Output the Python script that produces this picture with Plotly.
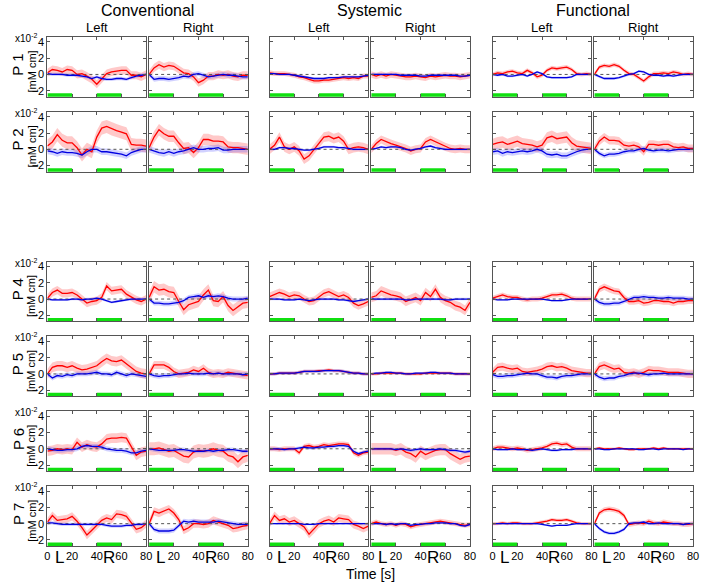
import plotly.graph_objects as go

# ---------------- data ----------------
TIME = [0, 4, 8, 12, 16, 20, 24, 28, 32, 36, 40, 44, 48, 52, 56, 60, 64, 68, 72, 76, 80]
ROW_LABELS = ["P 1", "P 2", "P 4", "P 5", "P 6", "P 7"]
GROUPS = ["Conventional", "Systemic", "Functional"]
SIDES = ["Left", "Right"]
X_TICKS = [0, 20, 40, 60, 80]
X_LABELS_LEFT = ["0", "20", "40", "60", "80"]
X_LABELS_RIGHT = ["", "20", "40", "60", "80"]
Y_TICKS = [-2, 0, 2, 4]
TASK_BLOCKS = [(0, 20), (40, 60)]
TASK_LETTERS = [("L", 9.5), ("R", 50)]

# P1
P1_CONV_L_RED = [0.2, 0.6, 0.5, 0.3, 0.6, 0.5, 0.0, 0.1, -0.2, -0.6, -1.2, -0.6, 0.1, 0.3, 0.4, 0.5, 0.5, -0.1, -0.1, -0.3, 0.0]
P1_CONV_L_BLUE = [0.1, 0.0, 0.0, 0.0, -0.1, -0.1, -0.1, -0.2, -0.3, -0.5, -0.3, -0.5, -0.6, -0.6, -0.5, -0.5, -0.6, -0.4, -0.2, -0.1, 0.0]
P1_CONV_R_RED = [0.0, 0.8, 1.2, 0.9, 1.1, 1.0, 0.6, 0.2, 0.1, -0.3, -1.0, -0.7, -0.2, -0.2, 0.0, -0.1, 0.0, -0.2, -0.3, -0.1, -0.1]
P1_CONV_R_BLUE = [0.0, -0.6, -0.5, -0.5, -0.6, -0.5, -0.4, -0.2, -0.3, 0.0, 0.1, -0.1, -0.3, -0.2, -0.1, 0.0, -0.1, -0.1, -0.2, -0.3, -0.3]
P1_SYS_L_RED = [0.2, 0.1, 0.1, 0.1, 0.0, -0.1, -0.3, -0.4, -0.6, -0.8, -0.8, -0.7, -0.7, -0.6, -0.5, -0.4, -0.5, -0.4, -0.5, -0.2, -0.2]
P1_SYS_L_BLUE = [0.1, 0.1, 0.0, 0.0, 0.0, -0.1, -0.2, -0.3, -0.4, -0.5, -0.5, -0.5, -0.4, -0.4, -0.4, -0.3, -0.3, -0.3, -0.3, -0.2, -0.1]
P1_SYS_R_RED = [0.0, -0.2, 0.0, -0.2, 0.0, -0.1, -0.2, -0.3, -0.3, -0.2, -0.3, -0.4, -0.2, -0.3, -0.2, -0.1, -0.2, -0.2, -0.3, -0.2, -0.1]
P1_SYS_R_BLUE = [0.0, 0.0, 0.0, 0.0, 0.0, 0.0, -0.1, -0.1, -0.1, -0.1, -0.2, -0.2, -0.1, -0.1, -0.1, -0.1, -0.1, -0.1, -0.2, -0.2, -0.1]
P1_FUN_L_RED = [0.0, 0.2, 0.1, 0.3, 0.4, 0.2, 0.1, 0.5, 0.2, -0.3, -0.1, 0.5, 0.8, 0.7, 0.8, 0.9, 0.6, 0.1, 0.0, 0.1, 0.0]
P1_FUN_L_BLUE = [0.0, -0.1, 0.0, -0.2, -0.2, -0.1, 0.0, -0.2, 0.0, 0.3, 0.1, -0.3, -0.4, -0.4, -0.4, -0.4, -0.3, 0.0, 0.0, 0.0, 0.0]
P1_FUN_R_RED = [0.0, 0.9, 1.1, 1.0, 1.2, 1.0, 0.5, 0.1, 0.0, -0.4, -0.8, -0.3, 0.1, 0.1, 0.2, 0.1, 0.3, 0.2, 0.0, 0.1, 0.0]
P1_FUN_R_BLUE = [0.0, -0.3, -0.5, -0.5, -0.5, -0.4, -0.2, 0.0, 0.1, 0.4, 0.3, 0.0, -0.1, -0.1, -0.2, -0.1, -0.2, -0.1, 0.0, 0.0, 0.0]
P1_BAND_RED = [0.5, 0.5, 0.3, 0.4, 0.25, 0.25]
P1_BAND_BLUE = [0.2, 0.3, 0.15, 0.15, 0.15, 0.15]

# P2
P2_CONV_L_RED = [0.4, 0.9, 1.8, 1.1, 0.8, 0.8, 0.2, -0.7, 0.0, -0.3, 1.5, 2.6, 2.8, 2.5, 2.3, 2.1, 1.9, 0.6, 0.5, 0.5, 0.4]
P2_CONV_L_BLUE = [-0.2, -0.3, -0.5, -0.3, -0.4, -0.4, -0.5, -0.7, -0.3, 0.0, 0.0, -0.3, -0.3, -0.4, -0.5, -0.6, -0.8, -0.4, -0.2, 0.0, 0.0]
P2_CONV_R_RED = [0.2, 1.5, 2.4, 1.9, 1.6, 1.6, 0.8, 0.1, 0.2, -0.4, 0.2, 1.2, 1.2, 1.0, 1.0, 0.9, 0.3, 0.2, 0.2, 0.1, 0.0]
P2_CONV_R_BLUE = [0.0, -0.2, -0.4, -0.5, -0.3, -0.5, -0.3, -0.2, 0.0, 0.2, 0.0, 0.0, 0.1, 0.1, 0.2, -0.1, -0.1, 0.0, 0.0, 0.0, 0.0]
P2_SYS_L_RED = [0.0, 0.5, 1.5, 0.3, 0.0, 0.3, -0.2, -1.2, -0.8, 0.0, 0.8, 1.5, 1.6, 1.3, 1.5, 1.0, 0.0, 0.2, 0.3, 0.2, 0.0]
P2_SYS_L_BLUE = [0.0, 0.0, 0.2, 0.2, 0.1, 0.1, 0.0, -0.1, -0.1, 0.0, 0.1, 0.3, 0.3, 0.3, 0.2, 0.2, 0.1, 0.0, 0.0, 0.0, 0.0]
P2_SYS_R_RED = [0.0, 0.7, 1.2, 0.9, 0.7, 0.5, 0.3, 0.1, -0.2, 0.0, 0.1, 0.9, 1.2, 0.9, 0.6, 0.3, 0.1, 0.0, 0.1, 0.0, 0.0]
P2_SYS_R_BLUE = [0.0, 0.1, 0.3, 0.2, 0.3, 0.3, 0.2, 0.0, -0.1, 0.0, 0.1, 0.3, 0.4, 0.2, 0.1, 0.0, 0.0, 0.0, 0.0, 0.0, 0.0]
P2_FUN_L_RED = [0.6, 0.8, 0.9, 0.6, 0.8, 1.0, 0.7, 0.6, 0.5, 0.3, 0.5, 1.4, 1.6, 1.3, 1.4, 1.5, 0.8, 0.4, 0.3, 0.2, 0.1]
P2_FUN_L_BLUE = [-0.3, -0.2, -0.5, -0.3, -0.4, -0.3, -0.2, -0.3, -0.2, 0.0, -0.2, -0.6, -0.7, -0.6, -0.8, -0.8, -0.5, -0.3, -0.1, 0.0, 0.0]
P2_FUN_R_RED = [0.0, 1.0, 1.5, 1.1, 1.1, 1.0, 0.5, 0.4, 0.5, 0.3, -0.3, 0.6, 0.6, 0.5, 0.6, 0.6, 0.3, 0.2, 0.3, 0.1, 0.1]
P2_FUN_R_BLUE = [0.0, -0.5, -0.8, -0.6, -0.6, -0.5, -0.3, -0.2, -0.2, 0.0, 0.1, -0.1, -0.2, -0.1, -0.1, -0.2, -0.1, 0.0, 0.0, 0.0, 0.0]
P2_BAND_RED = [0.8, 0.7, 0.6, 0.5, 0.7, 0.5]
P2_BAND_BLUE = [0.4, 0.4, 0.15, 0.15, 0.4, 0.3]

# P4
P4_CONV_L_RED = [0.1, 0.8, 1.1, 0.7, 0.7, 0.8, 0.5, 0.0, -0.5, -0.3, -0.2, 0.2, 1.6, 1.0, 1.1, 1.2, 0.6, 0.2, -0.1, -0.3, 0.0]
P4_CONV_L_BLUE = [0.0, -0.1, -0.1, -0.1, -0.1, 0.0, 0.0, -0.1, 0.0, 0.0, 0.1, 0.0, -0.2, -0.4, -0.3, -0.2, -0.1, 0.0, 0.0, 0.0, 0.0]
P4_CONV_R_RED = [0.2, 1.5, 1.1, 1.2, 0.9, 0.8, -0.3, -1.3, -0.7, -0.5, -0.3, 0.5, 1.1, -0.2, -0.3, 0.3, -0.8, -1.4, -1.0, -0.5, -0.4]
P4_CONV_R_BLUE = [0.0, -0.5, -0.5, -0.6, -0.6, -0.5, -0.4, -0.2, 0.2, 0.3, 0.4, 0.2, 0.4, 0.3, 0.4, 0.3, 0.1, 0.0, 0.0, 0.0, 0.1]
P4_SYS_L_RED = [0.3, 0.6, 0.8, 0.6, 0.3, 0.5, 0.4, 0.0, -0.3, -0.2, 0.3, 0.7, 0.9, 0.6, 0.3, 0.5, 0.2, -0.5, -0.8, -0.6, -0.3]
P4_SYS_L_BLUE = [0.0, 0.0, 0.0, -0.1, -0.1, -0.1, 0.0, -0.1, -0.2, -0.1, 0.0, 0.0, 0.0, 0.0, -0.1, -0.1, -0.2, -0.3, -0.2, -0.1, 0.0]
P4_SYS_R_RED = [0.2, 0.4, 1.0, 0.7, 0.5, 0.4, 0.2, -0.3, 0.0, 0.2, -0.2, 0.8, 0.3, 1.2, 0.2, -0.2, -0.4, -0.8, -1.0, -1.4, -0.4]
P4_SYS_R_BLUE = [0.0, 0.0, 0.0, 0.0, 0.0, 0.0, 0.0, -0.1, -0.1, 0.0, 0.0, 0.0, 0.0, 0.0, 0.0, -0.1, -0.1, 0.0, 0.0, 0.0, 0.0]
P4_FUN_L_RED = [0.1, 0.3, 0.5, 0.3, 0.2, 0.2, 0.0, -0.1, 0.0, 0.0, 0.1, 0.3, 0.5, 0.5, 0.6, 0.4, 0.1, 0.0, 0.0, 0.0, 0.0]
P4_FUN_L_BLUE = [0.0, -0.1, -0.1, -0.1, 0.0, 0.0, 0.0, 0.0, 0.0, 0.0, 0.0, -0.1, -0.2, -0.2, -0.2, -0.1, 0.0, 0.0, 0.0, 0.0, 0.0]
P4_FUN_R_RED = [0.0, 1.2, 1.5, 1.2, 1.0, 0.9, 0.2, -0.3, -0.3, -0.2, -0.5, -0.4, -0.2, -0.2, -0.3, -0.3, -0.5, -0.3, -0.3, -0.2, -0.2]
P4_FUN_R_BLUE = [0.0, -0.4, -0.6, -0.6, -0.5, -0.5, -0.3, 0.0, 0.2, 0.2, 0.3, 0.2, 0.2, 0.1, 0.1, 0.2, 0.1, 0.1, 0.1, 0.0, 0.0]
P4_BAND_RED = [0.5, 0.7, 0.5, 0.6, 0.3, 0.4]
P4_BAND_BLUE = [0.15, 0.3, 0.15, 0.15, 0.1, 0.3]

# P5
P5_CONV_L_RED = [0.0, 0.8, 1.0, 1.0, 0.8, 1.0, 0.7, 0.5, 0.6, 0.8, 1.0, 1.5, 1.9, 1.6, 1.5, 1.7, 1.2, 0.8, 0.3, 0.1, 0.0]
P5_CONV_L_BLUE = [0.0, -0.5, -0.2, -0.3, -0.1, -0.2, 0.0, 0.0, 0.0, 0.1, 0.2, 0.0, 0.0, -0.1, 0.2, 0.0, -0.2, 0.0, -0.1, -0.2, -0.3]
P5_CONV_R_RED = [0.0, 1.1, 1.1, 1.1, 0.8, 0.3, 0.0, 0.1, 0.2, 0.5, 0.3, 0.7, 0.2, 0.0, 0.1, 0.0, 0.2, 0.1, 0.0, -0.1, -0.2]
P5_CONV_R_BLUE = [0.0, -0.2, -0.3, -0.2, -0.2, -0.1, 0.0, 0.0, 0.1, 0.0, 0.0, 0.0, 0.1, 0.0, 0.1, 0.0, 0.0, 0.0, 0.0, -0.1, 0.0]
P5_SYS_L_RED = [0.0, 0.0, 0.1, 0.1, 0.1, 0.1, 0.2, 0.3, 0.3, 0.3, 0.4, 0.4, 0.5, 0.4, 0.4, 0.3, 0.2, 0.1, 0.1, 0.0, 0.0]
P5_SYS_L_BLUE = [0.0, 0.0, 0.1, 0.1, 0.1, 0.1, 0.2, 0.3, 0.3, 0.3, 0.3, 0.4, 0.4, 0.4, 0.4, 0.3, 0.2, 0.1, 0.1, 0.0, 0.0]
P5_SYS_R_RED = [0.0, 0.0, 0.1, 0.1, 0.1, 0.1, 0.1, 0.0, 0.0, 0.0, 0.0, 0.1, 0.1, 0.1, 0.1, 0.1, 0.1, 0.0, 0.0, 0.0, 0.0]
P5_SYS_R_BLUE = [0.0, 0.1, 0.1, 0.2, 0.2, 0.1, 0.1, 0.0, 0.0, 0.1, 0.1, 0.1, 0.2, 0.2, 0.1, 0.1, 0.1, 0.0, 0.0, 0.0, 0.0]
P5_FUN_L_RED = [0.2, 0.8, 0.9, 0.7, 0.6, 0.7, 0.3, 0.2, 0.3, 0.4, 0.6, 0.9, 1.0, 0.8, 0.9, 0.7, 0.4, 0.3, 0.2, 0.1, 0.1]
P5_FUN_L_BLUE = [-0.1, -0.3, -0.3, -0.2, -0.2, -0.1, 0.0, 0.1, 0.0, 0.0, -0.2, -0.4, -0.4, -0.5, -0.3, -0.2, -0.2, -0.1, 0.0, 0.0, 0.0]
P5_FUN_R_RED = [0.0, 0.9, 1.1, 0.8, 0.6, 0.7, 0.2, 0.1, 0.2, 0.0, 0.2, 0.5, 0.4, 0.4, 0.3, 0.2, 0.2, 0.2, 0.1, 0.0, 0.0]
P5_FUN_R_BLUE = [0.0, -0.4, -0.6, -0.5, -0.5, -0.3, -0.2, 0.0, 0.1, 0.1, 0.0, -0.1, 0.0, 0.0, 0.1, 0.0, 0.0, 0.0, 0.0, 0.0, 0.0]
P5_BAND_RED = [0.6, 0.5, 0.2, 0.2, 0.5, 0.5]
P5_BAND_BLUE = [0.3, 0.3, 0.2, 0.15, 0.3, 0.3]

# P6
P6_CONV_L_RED = [-0.3, -0.2, 0.0, -0.1, 0.0, -0.1, 0.8, 0.2, 0.5, 0.3, 0.2, 0.6, 1.2, 1.3, 1.3, 1.4, 1.3, 0.2, -0.8, -0.4, -0.3]
P6_CONV_L_BLUE = [0.0, -0.1, -0.2, -0.2, -0.1, -0.1, 0.0, 0.3, 0.4, 0.3, 0.3, 0.2, 0.0, -0.1, -0.2, -0.2, -0.3, -0.5, -0.5, -0.3, -0.2]
P6_CONV_R_RED = [0.0, 0.0, 0.1, -0.1, -0.3, -0.2, -0.5, -0.9, -1.0, -0.4, -0.2, -0.3, -0.2, 0.0, -0.2, -0.3, -0.8, -1.0, -1.6, -1.0, -0.8]
P6_CONV_R_BLUE = [0.0, -0.1, -0.2, -0.2, -0.2, -0.2, -0.1, -0.1, -0.2, -0.3, -0.3, -0.3, -0.2, -0.3, -0.2, -0.2, -0.1, -0.1, -0.2, -0.3, -0.3]
P6_SYS_L_RED = [0.0, 0.0, -0.1, 0.0, 0.0, 0.0, -0.5, 0.3, 0.4, 0.2, 0.3, 0.5, 0.4, 0.5, 0.6, 0.6, 0.5, -0.5, -0.8, -0.5, -0.4]
P6_SYS_L_BLUE = [0.0, 0.0, 0.0, -0.1, 0.0, 0.0, 0.1, 0.2, 0.1, 0.1, 0.2, 0.2, 0.3, 0.3, 0.4, 0.4, 0.3, -0.3, -0.6, -0.4, -0.3]
P6_SYS_R_RED = [0.0, 0.0, 0.0, 0.0, 0.0, -0.2, 0.0, -0.4, -0.6, -1.0, -0.3, -0.7, -0.4, -0.2, -0.1, -0.1, -0.6, -1.0, -1.3, -1.0, -0.9]
P6_SYS_R_BLUE = [0.0, 0.0, 0.0, 0.0, 0.0, -0.1, 0.0, -0.1, -0.2, -0.1, 0.0, -0.1, -0.1, -0.1, 0.0, -0.1, -0.2, -0.2, -0.3, -0.4, -0.3]
P6_FUN_L_RED = [0.0, 0.2, 0.2, 0.1, 0.0, 0.1, 0.0, -0.2, -0.1, 0.0, 0.1, 0.3, 0.6, 0.7, 0.5, 0.6, 0.2, 0.0, 0.0, 0.0, 0.0]
P6_FUN_L_BLUE = [0.0, -0.1, -0.1, -0.1, 0.0, -0.1, -0.1, -0.1, -0.2, -0.1, 0.0, -0.1, -0.2, -0.2, -0.1, -0.1, -0.1, 0.0, 0.0, 0.0, 0.0]
P6_FUN_R_RED = [0.0, 0.1, 0.0, 0.0, 0.0, 0.1, 0.0, -0.1, -0.1, 0.0, 0.0, 0.0, 0.1, 0.0, 0.1, 0.0, 0.0, 0.0, 0.0, 0.0, 0.0]
P6_FUN_R_BLUE = [0.0, 0.0, -0.1, -0.1, 0.0, 0.0, 0.0, 0.0, 0.0, -0.1, -0.1, 0.0, 0.0, -0.1, 0.0, 0.0, 0.0, 0.0, -0.1, 0.0, 0.0]
P6_BAND_RED = [0.6, 0.8, 0.3, 0.7, 0.3, 0.15]
P6_BAND_BLUE = [0.3, 0.25, 0.2, 0.2, 0.15, 0.1]

# P7
P7_CONV_L_RED = [0.2, 1.0, 0.4, 0.5, 0.6, 0.9, 0.3, -0.5, -1.4, -0.8, -0.2, 0.4, 0.7, 0.5, 1.2, 1.1, 0.9, 0.1, -0.7, -0.5, 0.0]
P7_CONV_L_BLUE = [0.1, 0.1, 0.0, -0.1, -0.1, -0.1, -0.1, -0.1, -0.1, -0.1, -0.1, -0.1, -0.2, -0.3, -0.3, -0.3, -0.2, -0.2, -0.1, -0.1, 0.0]
P7_CONV_R_RED = [0.0, 1.5, 1.3, 1.6, 1.8, 1.3, 0.5, -0.8, -0.5, 0.0, 0.0, -0.1, 0.0, 0.4, 0.2, 0.0, -0.2, -0.6, -0.5, -0.3, -0.2]
P7_CONV_R_BLUE = [0.0, -0.7, -0.9, -0.9, -0.9, -0.8, -0.2, 0.3, 0.2, 0.3, 0.2, 0.2, 0.2, 0.2, 0.3, 0.2, 0.1, 0.0, -0.1, -0.1, -0.1]
P7_SYS_L_RED = [0.0, 1.0, 0.4, 0.6, 0.2, 0.4, 0.0, -0.4, -1.3, -0.7, 0.0, 0.3, 0.5, 0.2, 0.7, 0.6, 0.5, -0.1, -0.3, -0.6, -0.3]
P7_SYS_L_BLUE = [0.0, 0.0, 0.0, 0.0, 0.0, 0.0, 0.0, -0.1, -0.1, -0.1, 0.0, 0.0, 0.0, 0.0, 0.0, 0.0, 0.0, 0.0, 0.0, 0.0, 0.0]
P7_SYS_R_RED = [0.0, 0.2, 0.0, -0.1, 0.0, -0.2, 0.0, -0.1, -0.4, -0.2, -0.1, 0.0, 0.1, 0.2, 0.3, 0.2, 0.1, 0.0, -0.1, -0.2, -0.1]
P7_SYS_R_BLUE = [0.0, 0.0, 0.0, -0.1, 0.0, -0.1, 0.0, 0.0, -0.2, -0.1, -0.1, 0.0, 0.0, 0.1, 0.1, 0.1, 0.0, 0.0, -0.2, -0.3, -0.1]
P7_FUN_L_RED = [0.0, 0.0, 0.1, 0.0, 0.1, 0.1, 0.0, 0.0, 0.0, 0.1, 0.2, 0.3, 0.5, 0.4, 0.4, 0.5, 0.3, 0.1, 0.0, 0.0, 0.0]
P7_FUN_L_BLUE = [0.0, 0.0, 0.0, 0.0, 0.0, 0.0, 0.0, 0.0, 0.0, 0.0, -0.1, -0.2, -0.3, -0.2, -0.2, -0.2, -0.1, 0.0, 0.0, 0.0, 0.0]
P7_FUN_R_RED = [0.0, 1.3, 1.7, 1.8, 1.7, 1.5, 1.0, -0.1, 0.0, 0.1, 0.0, 0.3, 0.1, 0.0, 0.2, 0.1, 0.0, 0.0, -0.1, -0.1, 0.0]
P7_FUN_R_BLUE = [0.0, -0.6, -1.0, -1.2, -1.2, -1.0, -0.7, 0.0, 0.1, 0.1, 0.2, 0.0, 0.0, 0.1, 0.0, 0.0, 0.0, 0.0, -0.1, 0.0, 0.0]
P7_BAND_RED = [0.5, 0.5, 0.5, 0.3, 0.2, 0.3]
P7_BAND_BLUE = [0.2, 0.3, 0.1, 0.15, 0.1, 0.2]

ROWS = [
    ([P1_CONV_L_RED, P1_CONV_R_RED, P1_SYS_L_RED, P1_SYS_R_RED, P1_FUN_L_RED, P1_FUN_R_RED],
     [P1_CONV_L_BLUE, P1_CONV_R_BLUE, P1_SYS_L_BLUE, P1_SYS_R_BLUE, P1_FUN_L_BLUE, P1_FUN_R_BLUE],
     P1_BAND_RED, P1_BAND_BLUE),
    ([P2_CONV_L_RED, P2_CONV_R_RED, P2_SYS_L_RED, P2_SYS_R_RED, P2_FUN_L_RED, P2_FUN_R_RED],
     [P2_CONV_L_BLUE, P2_CONV_R_BLUE, P2_SYS_L_BLUE, P2_SYS_R_BLUE, P2_FUN_L_BLUE, P2_FUN_R_BLUE],
     P2_BAND_RED, P2_BAND_BLUE),
    ([P4_CONV_L_RED, P4_CONV_R_RED, P4_SYS_L_RED, P4_SYS_R_RED, P4_FUN_L_RED, P4_FUN_R_RED],
     [P4_CONV_L_BLUE, P4_CONV_R_BLUE, P4_SYS_L_BLUE, P4_SYS_R_BLUE, P4_FUN_L_BLUE, P4_FUN_R_BLUE],
     P4_BAND_RED, P4_BAND_BLUE),
    ([P5_CONV_L_RED, P5_CONV_R_RED, P5_SYS_L_RED, P5_SYS_R_RED, P5_FUN_L_RED, P5_FUN_R_RED],
     [P5_CONV_L_BLUE, P5_CONV_R_BLUE, P5_SYS_L_BLUE, P5_SYS_R_BLUE, P5_FUN_L_BLUE, P5_FUN_R_BLUE],
     P5_BAND_RED, P5_BAND_BLUE),
    ([P6_CONV_L_RED, P6_CONV_R_RED, P6_SYS_L_RED, P6_SYS_R_RED, P6_FUN_L_RED, P6_FUN_R_RED],
     [P6_CONV_L_BLUE, P6_CONV_R_BLUE, P6_SYS_L_BLUE, P6_SYS_R_BLUE, P6_FUN_L_BLUE, P6_FUN_R_BLUE],
     P6_BAND_RED, P6_BAND_BLUE),
    ([P7_CONV_L_RED, P7_CONV_R_RED, P7_SYS_L_RED, P7_SYS_R_RED, P7_FUN_L_RED, P7_FUN_R_RED],
     [P7_CONV_L_BLUE, P7_CONV_R_BLUE, P7_SYS_L_BLUE, P7_SYS_R_BLUE, P7_FUN_L_BLUE, P7_FUN_R_BLUE],
     P7_BAND_RED, P7_BAND_BLUE),
]

# ---------------- layout geometry (pixels in the 706x585 window) ----------------
W, H = 706, 585
COL_LEFT = [45, 148, 270, 373, 496, 599]
ROW_TOP = [36, 111, 261, 336, 411, 486]
PW, PH = 100, 60
XR = [0, 80]
YR = [-2.75, 4.6]
FONT = "Liberation Sans, Arial, sans-serif"

RED = "#ff0000"
BLUE = "#0000e0"
RED_BAND = "rgba(255,60,60,0.28)"
BLUE_BAND = "rgba(70,70,255,0.25)"
GREEN = "#10e010"

fig = go.Figure()
layout = dict(
    width=W, height=H, margin=dict(l=0, r=0, t=0, b=0),
    paper_bgcolor="white", plot_bgcolor="white", showlegend=False,
    font=dict(family=FONT, size=11, color="black"),
)
annotations = []


def px_x(p):
    return p / W


def px_y(p):
    return 1 - p / H


def note(x, y, text, size, angle=0, xref="paper", xanchor="center"):
    return dict(x=x, y=y, xref=xref, yref="paper", text=text, showarrow=False,
                textangle=angle, xanchor=xanchor, yanchor="middle",
                font=dict(size=size, family=FONT, color="black"))


k = 0
for r, (reds, blues, bred, bblue) in enumerate(ROWS):
    for c in range(6):
        k += 1
        xa = "x" if k == 1 else f"x{k}"
        ya = "y" if k == 1 else f"y{k}"
        xkey = "xaxis" if k == 1 else f"xaxis{k}"
        ykey = "yaxis" if k == 1 else f"yaxis{k}"
        l = COL_LEFT[c]
        t = ROW_TOP[r]
        layout[xkey] = dict(
            domain=[px_x(l), px_x(l + PW)], anchor=ya, range=XR,
            tickvals=X_TICKS, ticktext=(X_LABELS_LEFT if c % 2 == 0 else X_LABELS_RIGHT),
            ticks="inside", ticklen=3, tickcolor="#555",
            showline=True, linecolor="#555", linewidth=1, mirror="ticks",
            showgrid=False, zeroline=False,
            showticklabels=(r == 5), tickfont=dict(size=11, family=FONT),
            fixedrange=True,
        )
        layout[ykey] = dict(
            domain=[px_y(t + PH), px_y(t)], anchor=xa, range=YR,
            tickvals=Y_TICKS, ticks="inside", ticklen=3, tickcolor="#555",
            showline=True, linecolor="#555", linewidth=1, mirror="ticks",
            showgrid=False, zeroline=False,
            showticklabels=(c == 0), tickfont=dict(size=11, family=FONT),
            fixedrange=True,
        )
        red = reds[c]
        blue = blues[c]
        up = [v + bred[c] for v in red]
        lo = [v - bred[c] for v in red]
        fig.add_trace(go.Scatter(x=TIME + TIME[::-1], y=up + lo[::-1], fill="toself",
                                 fillcolor=RED_BAND, line=dict(width=0), mode="lines",
                                 xaxis=xa, yaxis=ya, hoverinfo="skip"))
        up = [v + bblue[c] for v in blue]
        lo = [v - bblue[c] for v in blue]
        fig.add_trace(go.Scatter(x=TIME + TIME[::-1], y=up + lo[::-1], fill="toself",
                                 fillcolor=BLUE_BAND, line=dict(width=0), mode="lines",
                                 xaxis=xa, yaxis=ya, hoverinfo="skip"))
        fig.add_trace(go.Scatter(x=XR, y=[0, 0], mode="lines",
                                 line=dict(color="#555", width=1, dash="dot"),
                                 xaxis=xa, yaxis=ya, hoverinfo="skip"))
        fig.add_trace(go.Scatter(x=TIME, y=red, mode="lines", line=dict(color=RED, width=1.3),
                                 xaxis=xa, yaxis=ya))
        fig.add_trace(go.Scatter(x=TIME, y=blue, mode="lines", line=dict(color=BLUE, width=1.3),
                                 xaxis=xa, yaxis=ya))
        gx, gy = [], []
        for a, b in TASK_BLOCKS:
            gx += [a, b, None]
            gy += [-2.6, -2.6, None]
        fig.add_trace(go.Scatter(x=gx, y=gy, mode="lines", line=dict(color=GREEN, width=4.5),
                                 xaxis=xa, yaxis=ya, cliponaxis=False, hoverinfo="skip"))
        if r == 5:
            for letter, pos in TASK_LETTERS:
                annotations.append(note(pos, px_y(557), letter, 17, xref=xa))

for r, lab in enumerate(ROW_LABELS):
    mid = ROW_TOP[r] + PH / 2
    annotations.append(note(px_x(15), px_y(mid - 2), lab, 15, angle=-90))
    annotations.append(note(px_x(29), px_y(mid + 5), "[mM cm]", 11, angle=-90))
    annotations.append(note(px_x(36), px_y(ROW_TOP[r] + 1), "x10<sup>-2</sup>", 10,
                            xanchor="right"))

for g, name in enumerate(GROUPS):
    cl = COL_LEFT[2 * g]
    cr = COL_LEFT[2 * g + 1] + PW
    annotations.append(note(px_x((cl + cr) / 2), px_y(10), name, 16))
    for s, side in enumerate(SIDES):
        l = COL_LEFT[2 * g + s]
        annotations.append(note(px_x(l + PW / 2), px_y(27), side, 13))

annotations.append(note(px_x(372), px_y(574), "Time [s]", 14))

layout["annotations"] = annotations
fig.update_layout(**layout)
fig.write_html("out.html", config={"displayModeBar": False},
               post_script="document.body.style.margin='0px';")
